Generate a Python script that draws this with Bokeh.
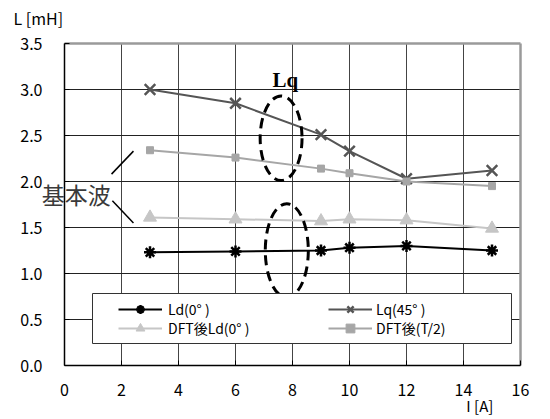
from bokeh.plotting import figure
from bokeh.models import (Range1d, FixedTicker, Label, Legend, LegendItem,
                          BoxAnnotation, CustomJSTickFormatter)
from bokeh.embed import file_html
from bokeh.resources import INLINE

# ---- data ----
current = [3, 6, 9, 10, 12, 15]
ld_0 = [1.23, 1.24, 1.25, 1.28, 1.30, 1.25]
lq_45 = [3.00, 2.85, 2.51, 2.33, 2.03, 2.12]
dft_ld_0 = [1.61, 1.59, 1.57, 1.59, 1.58, 1.49]
dft_t2 = [2.34, 2.26, 2.14, 2.09, 2.00, 1.95]

series_names = ["Ld(0° )", "Lq(45° )", "DFT後Ld(0° )", "DFT後(T/2)"]
x_ticks = [0, 2, 4, 6, 8, 10, 12, 14, 16]
y_ticks = [0.0, 0.5, 1.0, 1.5, 2.0, 2.5, 3.0, 3.5]
X_MIN, X_MAX = 0, 16
Y_MIN, Y_MAX = 0.0, 3.5

# annotation ellipses (data units)
ell_x = [7.6, 7.8]
ell_y = [2.47, 1.25]
ell_w = [1.47, 1.51]
ell_h = [0.92, 1.02]

FONT = "Noto Sans CJK JP"

# ---- layout (pixels) ----
W, H = 550, 419
PL, PR, PT, PB = 64, 520, 43, 365   # plot area edges in pixels
sx = (PR - PL) / (X_MAX - X_MIN)
sy = (PB - PT) / (Y_MAX - Y_MIN)

p = figure(width=W, height=H, output_backend="svg", toolbar_location=None,
           x_range=Range1d(X_MIN - PL / sx, X_MAX + (W - PR) / sx),
           y_range=Range1d(Y_MIN - (H - PB) / sy, Y_MAX + PT / sy),
           min_border=0)
p.background_fill_color = "white"
p.border_fill_color = "white"
p.outline_line_color = None
p.xgrid.visible = False
p.ygrid.visible = False

# grid lines limited to the plot area
gx = [t for t in x_ticks if X_MIN < t < X_MAX]
gy = [t for t in y_ticks if Y_MIN < t < Y_MAX]
p.segment(x0=gx, y0=[Y_MIN] * len(gx), x1=gx, y1=[Y_MAX] * len(gx),
          line_color="#444444", line_width=1)
p.segment(x0=[X_MIN] * len(gy), y0=gy, x1=[X_MAX] * len(gy), y1=gy,
          line_color="#222222", line_width=1)
# grey top / right border
p.segment(x0=[X_MIN, X_MAX], y0=[Y_MAX, Y_MIN], x1=[X_MAX, X_MAX], y1=[Y_MAX, Y_MAX],
          line_color="#9a9a9a", line_width=2.5)

# axes fixed at the plot-area edges
for ax, ticks, loc, bnd in ((p.xaxis[0], x_ticks, Y_MIN, (X_MIN, X_MAX)),
                            (p.yaxis[0], y_ticks, X_MIN, (Y_MIN, Y_MAX))):
    ax.ticker = FixedTicker(ticks=ticks)
    ax.fixed_location = loc
    ax.bounds = bnd
    ax.axis_line_color = "black"
    ax.axis_line_width = 1.5
    ax.major_tick_in = 5
    ax.major_tick_out = 0
    ax.minor_tick_line_color = None
    ax.major_tick_line_color = "black"
    ax.major_label_text_font = FONT
    ax.major_label_text_font_size = "16px"
    ax.major_label_text_color = "black"
p.yaxis[0].major_label_standoff = 22
p.xaxis[0].major_label_standoff = 18
p.yaxis[0].formatter = CustomJSTickFormatter(code="return tick.toFixed(1);")

# series
r_ld_l = p.line(current, ld_0, line_color="black", line_width=2)
r_ld_m = p.scatter(current, ld_0, marker="asterisk", size=12, line_color="black", line_width=2.5)
r_lq_l = p.line(current, lq_45, line_color="#555555", line_width=2)
r_lq_m = p.scatter(current, lq_45, marker="x", size=15, line_color="#555555", line_width=2.5)
r_dl_l = p.line(current, dft_ld_0, line_color="#c6c6c6", line_width=2)
r_dl_m = p.scatter(current, dft_ld_0, marker="triangle", size=13, fill_color="#c6c6c6",
                   line_color="#c6c6c6")
r_dt_l = p.line(current, dft_t2, line_color="#a6a6a6", line_width=2)
r_dt_m = p.scatter(current, dft_t2, marker="square", size=7, fill_color="#a6a6a6",
                   line_color="#a6a6a6")

# dashed ellipses
p.ellipse(x=ell_x, y=ell_y, width=ell_w, height=ell_h, fill_alpha=0,
          line_color="black", line_width=3, line_dash="10 6")

# 基本波 pointer lines
p.segment(x0=[1.65, 1.68], y0=[2.08, 1.79], x1=[2.42, 2.42], y1=[2.33, 1.55],
          line_color="black", line_width=1.5)

# labels
p.add_layout(Label(x=-1.79, y=3.78, text="L [mH]", text_font=FONT, text_font_size="16px",
                   text_color="black", text_baseline="middle", text_align="left"))
p.add_layout(Label(x=14.1, y=-0.44, text="I [A]", text_font=FONT, text_font_size="15px",
                   text_color="black", text_baseline="middle", text_align="left"))
p.add_layout(Label(x=-0.80, y=1.86, text="基本波", text_font=FONT, text_font_size="23px",
                   text_color="#3a3a3a", text_baseline="middle", text_align="left"))
p.add_layout(Label(x=7.75, y=3.10, text="Lq", text_font="Liberation Serif",
                   text_font_style="bold", text_font_size="21px", text_color="black",
                   text_baseline="alphabetic", text_align="center"))

# legend box
p.add_layout(BoxAnnotation(left=X_MIN + (92 - PL) / sx, right=X_MIN + (511 - PL) / sx,
                           bottom=Y_MIN + (PB - 343) / sy, top=Y_MIN + (PB - 293) / sy,
                           fill_color="white", fill_alpha=1, line_color="#333333",
                           line_width=1, line_alpha=1))

def mk_legend(label, renderers, loc, standoff):
    lg = Legend(items=[LegendItem(label=label, renderers=renderers)], location=loc,
                orientation="vertical", padding=0, margin=0, spacing=0,
                glyph_width=44, glyph_height=22, label_height=22, label_standoff=standoff,
                label_text_font=FONT, label_text_font_size="14px",
                label_text_color="black", border_line_alpha=0,
                background_fill_alpha=0)
    p.add_layout(lg, "center")

mk_legend(series_names[0], [r_ld_l, r_ld_m], (118, 99), 6)
mk_legend(series_names[2], [r_dl_l, r_dl_m], (118, 80), 6)
mk_legend(series_names[1], [r_lq_l, r_lq_m], (328, 99), 4)
mk_legend(series_names[3], [r_dt_l, r_dt_m], (328, 80), 4)

open("out.html", "w").write(file_html(p, INLINE))
